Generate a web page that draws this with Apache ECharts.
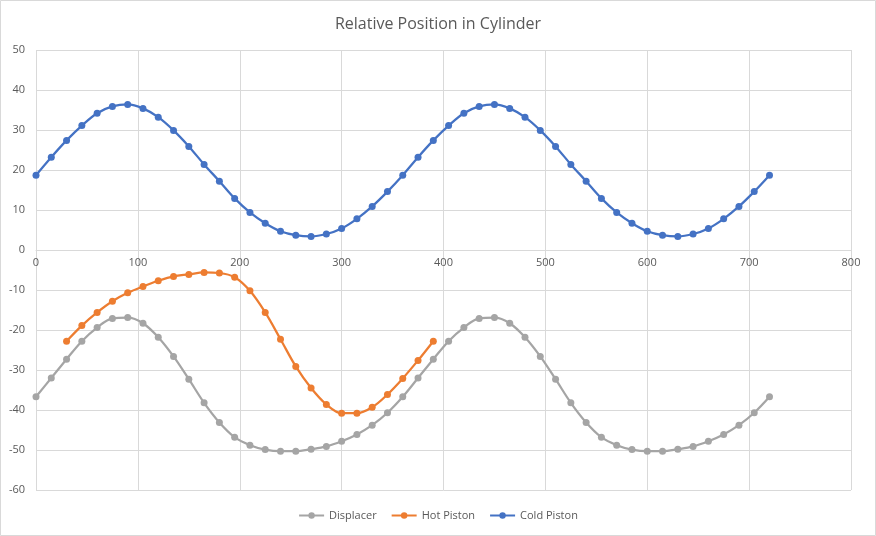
<!DOCTYPE html>
<html><head><meta charset="utf-8">
<script src="https://cdn.jsdelivr.net/npm/echarts@6/dist/echarts.min.js"></script>
<style>html,body{margin:0;padding:0;background:#fff}#c{width:876px;height:536px}</style>
</head><body><div id="c"></div>
<script>
const angles = [0,15,30,45,60,75,90,105,120,135,150,165,180,195,210,225,240,255,270,285,300,315,330,345,360,375,390,405,420,435,450,465,480,495,510,525,540,555,570,585,600,615,630,645,660,675,690,705,720];
const displacer = [-36.7,-32.0,-27.3,-22.8,-19.4,-17.1,-16.9,-18.3,-21.8,-26.6,-32.3,-38.2,-43.1,-46.8,-48.8,-49.9,-50.3,-50.3,-49.8,-49.1,-47.8,-46.1,-43.8,-40.7,
  -36.7,-32.0,-27.3,-22.8,-19.4,-17.1,-16.9,-18.3,-21.8,-26.6,-32.3,-38.2,-43.1,-46.8,-48.8,-49.9,-50.3,-50.3,-49.8,-49.1,-47.8,-46.1,-43.8,-40.7,-36.7];
const hotAngles = [30,45,60,75,90,105,120,135,150,165,180,195,210,225,240,255,270,285,300,315,330,345,360,375,390];
const hotPiston = [-22.8,-18.9,-15.6,-12.8,-10.7,-9.1,-7.7,-6.6,-6.1,-5.6,-5.75,-6.8,-10.2,-15.6,-22.3,-29.1,-34.5,-38.6,-40.8,-40.8,-39.3,-36.1,-32.1,-27.6,-22.8];
const coldPiston = [18.7,23.2,27.4,31.1,34.2,35.9,36.4,35.4,33.2,29.9,25.9,21.4,17.2,12.9,9.4,6.7,4.7,3.7,3.4,4.0,5.4,7.8,10.9,14.6,
  18.7,23.2,27.4,31.1,34.2,35.9,36.4,35.4,33.2,29.9,25.9,21.4,17.2,12.9,9.4,6.7,4.7,3.7,3.4,4.0,5.4,7.8,10.9,14.6,18.7];

const pairs = (xs, ys) => xs.map((x, i) => [x, ys[i]]);
const chart = echarts.init(document.getElementById('c'), null, {renderer: 'canvas'});
const txt = '#595959', grid = '#d9d9d9';
const font = 'Open Sans, Liberation Sans, sans-serif';
function ser(name, xs, ys, color, z) {
  return {name, type: 'line', data: pairs(xs, ys), smooth: 0.35, symbol: 'circle', symbolSize: 7,
    lineStyle: {color, width: 2.25}, itemStyle: {color}, z, emphasis: {disabled: true}};
}
chart.setOption({
  animation: false,
  backgroundColor: '#fff',
  title: {text: 'Relative Position in Cylinder', left: 'center', top: 11,
    textStyle: {color: txt, fontSize: 16, fontWeight: 'normal', fontFamily: font}},
  grid: {left: 36, right: 25, top: 50, bottom: 46, containLabel: false},
  legend: {bottom: 10, left: 'center', itemWidth: 25, itemHeight: 8, itemGap: 14,
    textStyle: {color: txt, fontSize: 11, fontFamily: font},
    data: ['Displacer', 'Hot Piston', 'Cold Piston']},
  xAxis: [{type: 'value', min: 0, max: 800, interval: 100, position: 'bottom', offset: -240,
    axisLine: {show: true, onZero: false, lineStyle: {color: grid, width: 1}},
    axisTick: {show: false},
    axisLabel: {color: txt, fontSize: 11, margin: 7, fontFamily: font},
    splitLine: {show: true, lineStyle: {color: grid, width: 1}}}],
  yAxis: {type: 'value', min: -60, max: 50, interval: 10,
    axisLine: {show: false}, axisTick: {show: false},
    axisLabel: {color: txt, fontSize: 11, margin: 11, fontFamily: font},
    splitLine: {show: true, lineStyle: {color: grid, width: 1}}},
  graphic: [{type: 'rect', shape: {x: 0.5, y: 0.5, width: 875, height: 535}, style: {fill: 'none', stroke: grid, lineWidth: 1}, silent: true}],
  series: [
    ser('Displacer', angles, displacer, '#A5A5A5', 2),
    ser('Hot Piston', hotAngles, hotPiston, '#ED7D31', 3),
    ser('Cold Piston', angles, coldPiston, '#4472C4', 4)
  ]
});
</script></body></html>
